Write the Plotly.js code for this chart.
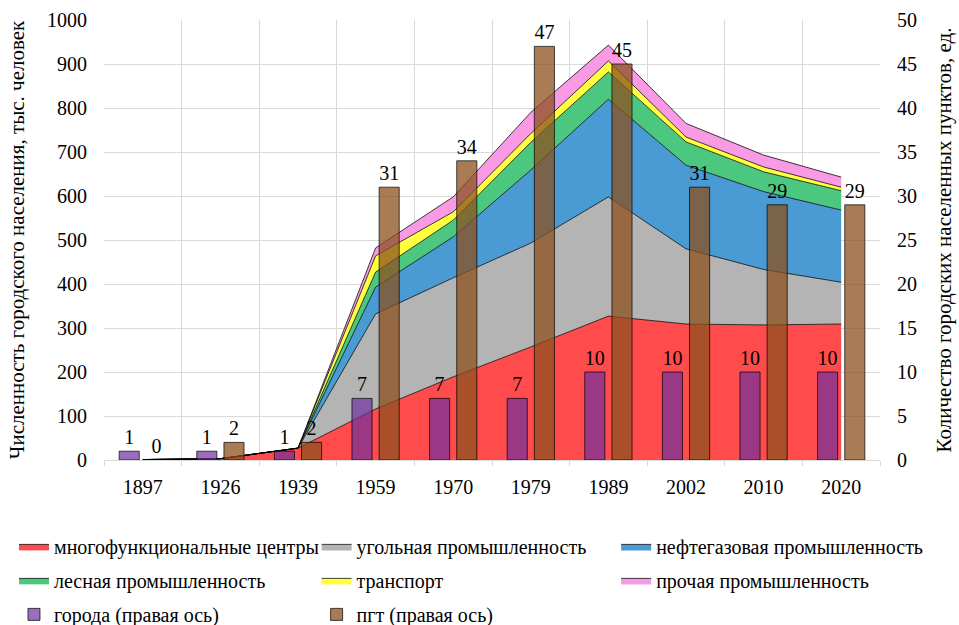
<!DOCTYPE html>
<html><head><meta charset="utf-8">
<script src="https://cdn.plot.ly/plotly-3.0.1.min.js"></script>
<style>body{margin:0;background:#fff}#chart{width:959px;height:625px}</style>
</head><body><div id="chart"></div>
<script>
var years = ['1897','1926','1939','1959','1970','1979','1989','2002','2010','2020'];
var multiCenters = [1, 3, 27, 116, 189, 257, 327, 309, 307, 309];
var coalIndustry = [0, 0, 0, 216, 225, 236, 271, 171, 126, 95];
var oilGas = [0, 0, 0, 61, 93, 166, 222, 190, 177, 164];
var forestry = [0, 0, 0, 34, 38, 63, 62, 53, 45, 44];
var transport = [0, 0, 0, 37, 19, 20, 25, 11, 11, 8];
var otherIndustry = [0, 0, 0, 18, 34, 48, 36, 31, 27, 23];
var cities = [1, 1, 1, 7, 7, 7, 10, 10, 10, 10];
var towns = [0, 2, 2, 31, 34, 47, 45, 31, 29, 29];

var serif = 'Liberation Serif';
function area(name, vals, color, lg){
  return {type:'scatter', mode:'lines', x:years, y:vals, name:name, stackgroup:'one',
    legend:lg, legendgroup:name,
    fillcolor:color, line:{color:'rgba(0,0,0,0.75)', width:1}, hoverinfo:'y'};
}
function bar(name, vals, color, lg){
  return {type:'bar', x:years, y:vals, name:name, yaxis:'y2', legend:lg, legendgroup:name,
    marker:{color:color, line:{color:'rgba(0,0,0,0.7)', width:1}},
    text:vals.map(String), textposition:'outside', cliponaxis:false,
    textfont:{family:serif, size:20, color:'#000'}};
}
var data = [
  area('многофункциональные центры', multiCenters, 'rgb(255,75,75)', 'legend'),
  area('угольная промышленность', coalIndustry, 'rgb(180,180,180)', 'legend2'),
  area('нефтегазовая промышленность', oilGas, 'rgb(74,154,212)', 'legend3'),
  area('лесная промышленность', forestry, 'rgb(76,199,128)', 'legend'),
  area('транспорт', transport, 'rgb(255,255,64)', 'legend2'),
  area('прочая промышленность', otherIndustry, 'rgb(248,154,228)', 'legend3'),
  bar('города (правая ось)', cities, 'rgba(112,48,160,0.7)', 'legend'),
  bar('пгт (правая ось)', towns, 'rgba(140,80,30,0.75)', 'legend2')
];
function leg(x){
  return {orientation:'v', x:x, xanchor:'left', y:-0.152, yanchor:'top',
    font:{family:serif, size:20}, traceorder:'grouped', tracegroupgap:5, itemwidth:30,
    bgcolor:'rgba(0,0,0,0)'};
}
var layout = {
  width:959, height:625,
  margin:{l:104, r:79, t:20, b:165, autoexpand:false},
  paper_bgcolor:'#fff', plot_bgcolor:'#fff',
  font:{family:serif, size:20, color:'#000'},
  showlegend:true,
  barmode:'group', bargap:0.3, bargroupgap:0.26,
  xaxis:{type:'category', tickson:'boundaries', showgrid:true, gridcolor:'#d9d9d9',
    ticks:'outside', ticklen:5, tickcolor:'#d9d9d9', showline:true, linecolor:'#d9d9d9',
    ticklabelstandoff:9, tickfont:{family:serif, size:20}},
  yaxis:{range:[0,1000], dtick:100, showgrid:true, gridcolor:'#d9d9d9', zeroline:false,
    ticks:'', ticklabelstandoff:16, tickfont:{family:serif, size:20},
    title:{text:'Численность городского населения, тыс. человек', font:{family:serif, size:21}, standoff:16}},
  yaxis2:{range:[0,50], dtick:5, overlaying:'y', side:'right', showgrid:false, zeroline:false,
    ticks:'', ticklabelstandoff:16, tickfont:{family:serif, size:20},
    title:{text:'Количество городских населенных пунктов, ед.', font:{family:serif, size:21}, standoff:20}},
  legend:leg(-0.116),
  legend2:leg(0.274),
  legend3:leg(0.66)
};
Plotly.newPlot('chart', data, layout, {displayModeBar:false, staticPlot:true});
</script></body></html>
